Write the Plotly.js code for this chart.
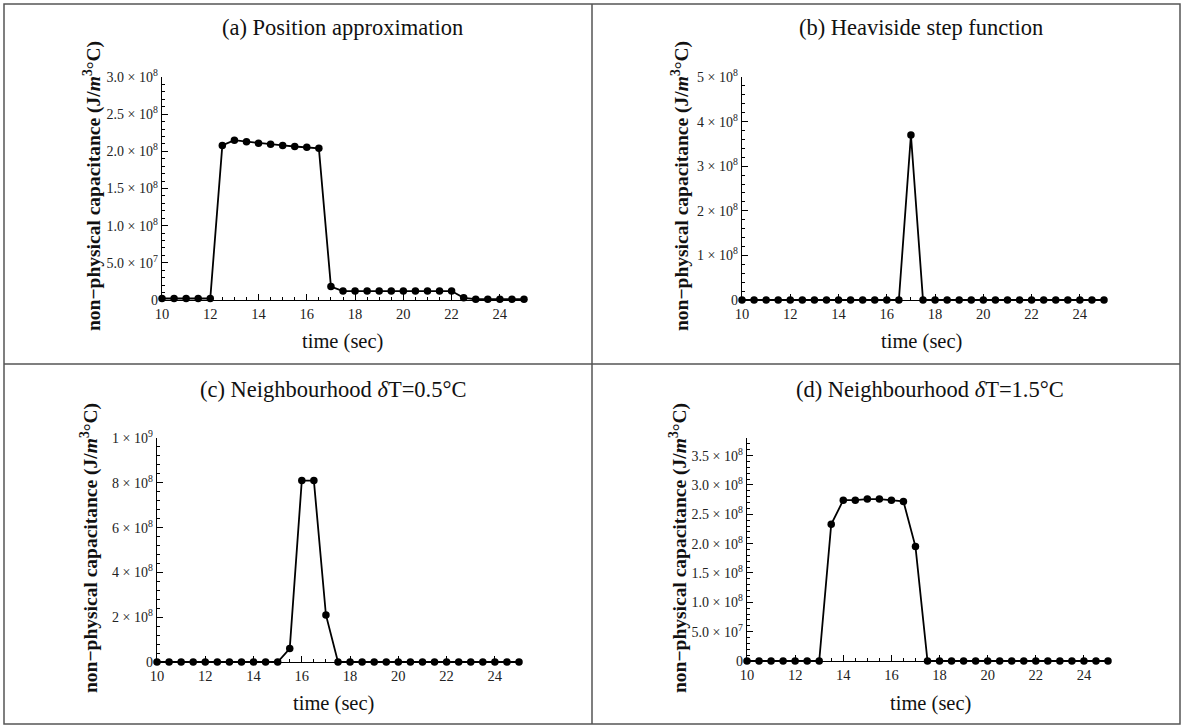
<!DOCTYPE html>
<html>
<head>
<meta charset="utf-8">
<script src="https://cdn.plot.ly/plotly-3.0.1.min.js"></script>
<style>html,body{margin:0;padding:0;background:#fff;}#chart{width:1184px;height:727px;}</style>
</head>
<body>
<div id="chart"></div>
<script>
// ---- data ----
const time = [10,10.5,11,11.5,12,12.5,13,13.5,14,14.5,15,15.5,16,16.5,17,17.5,18,18.5,19,19.5,20,20.5,21,21.5,22,22.5,23,23.5,24,24.5,25];
const capA = [2e6,2e6,2e6,2e6,2e6,2.08e8,2.15e8,2.13e8,2.11e8,2.095e8,2.08e8,2.065e8,2.055e8,2.04e8,1.8e7,1.2e7,1.2e7,1.2e7,1.2e7,1.2e7,1.2e7,1.2e7,1.2e7,1.2e7,1.2e7,3e6,1e6,1e6,1e6,1e6,1e6];
const capB = [0,0,0,0,0,0,0,0,0,0,0,0,0,0,3.7e8,0,0,0,0,0,0,0,0,0,0,0,0,0,0,0,0];
const capC = [0,0,0,0,0,0,0,0,0,0,0,6e7,8.1e8,8.1e8,2.1e8,0,0,0,0,0,0,0,0,0,0,0,0,0,0,0,0];
const capD = [0,0,0,0,0,0,0,2.33e8,2.74e8,2.74e8,2.76e8,2.76e8,2.74e8,2.72e8,1.95e8,0,0,0,0,0,0,0,0,0,0,0,0,0,0,0,0];

const panelTitles = ['(a) Position approximation','(b) Heaviside step function','(c) Neighbourhood <i>δ</i>T=0.5°C','(d) Neighbourhood <i>δ</i>T=1.5°C'];
const xTitle = 'time (sec)';
const yTitle = '<b>non−physical capacitance (J/<i>m</i><sup>3</sup>°C)</b>';

const xTickVals = [10,12,14,16,18,20,22,24];
const yTickValsA = [0,5e7,1e8,1.5e8,2e8,2.5e8,3e8];
const yTickTextA = ['0','5.0 × 10<sup>7</sup>','1.0 × 10<sup>8</sup>','1.5 × 10<sup>8</sup>','2.0 × 10<sup>8</sup>','2.5 × 10<sup>8</sup>','3.0 × 10<sup>8</sup>'];
const yTickValsB = [0,1e8,2e8,3e8,4e8,5e8];
const yTickTextB = ['0','1 × 10<sup>8</sup>','2 × 10<sup>8</sup>','3 × 10<sup>8</sup>','4 × 10<sup>8</sup>','5 × 10<sup>8</sup>'];
const yTickValsC = [0,2e8,4e8,6e8,8e8,1e9];
const yTickTextC = ['0','2 × 10<sup>8</sup>','4 × 10<sup>8</sup>','6 × 10<sup>8</sup>','8 × 10<sup>8</sup>','1 × 10<sup>9</sup>'];
const yTickValsD = [0,5e7,1e8,1.5e8,2e8,2.5e8,3e8,3.5e8];
const yTickTextD = ['0','5.0 × 10<sup>7</sup>','1.0 × 10<sup>8</sup>','1.5 × 10<sup>8</sup>','2.0 × 10<sup>8</sup>','2.5 × 10<sup>8</sup>','3.0 × 10<sup>8</sup>','3.5 × 10<sup>8</sup>'];

// ---- layout helpers ----
const W = 1184, H = 727;
const px = x => x / W;
const py = y => 1 - y / H;
const serif = 'Liberation Serif, Times New Roman, serif';

function trace(y, xa, ya) {
  return {x: time, y: y, xaxis: xa, yaxis: ya, type: 'scatter', mode: 'lines+markers',
    line: {color: '#000', width: 1.8}, marker: {color: '#000', size: 7.5}, cliponaxis: false, hoverinfo: 'x+y'};
}
function xAxis(l, r, anchor) {
  return {domain: [px(l), px(r)], range: [10, 25], anchor: anchor, showgrid: false, zeroline: false,
    showline: true, linecolor: '#000', linewidth: 1.3, ticks: 'inside', ticklen: 6, tickcolor: '#000',
    tickvals: xTickVals, ticktext: xTickVals.map(String),
    minor: {ticks: 'inside', tickvals: time, ticklen: 3, tickcolor: '#000'},
    tickfont: {family: serif, size: 14.5, color: '#222'}, fixedrange: true};
}
function yAxis(top, bottom, max, vals, text, minorStep, anchor) {
  const mv = []; for (let v = 0; v <= max + 1; v += minorStep) mv.push(v);
  return {domain: [py(bottom), py(top)], range: [0, max], anchor: anchor, showgrid: false, zeroline: false,
    showline: true, linecolor: '#000', linewidth: 1.3, ticks: 'inside', ticklen: 6, tickcolor: '#000',
    tickvals: vals, ticktext: text,
    minor: {ticks: 'inside', tickvals: mv, ticklen: 3, tickcolor: '#000'},
    tickfont: {family: serif, size: 14, color: '#222'}, fixedrange: true};
}

const data = [trace(capA,'x','y'), trace(capB,'x2','y2'), trace(capC,'x3','y3'), trace(capD,'x4','y4')];

const ann = [];
function addText(text, x, y, size, angle) {
  ann.push({text: text, x: px(x), y: py(y), xref: 'paper', yref: 'paper', xanchor: 'center', yanchor: 'middle',
    showarrow: false, textangle: angle || 0, font: {family: serif, size: size, color: '#111'}});
}
addText(panelTitles[0], 342, 27, 22.5);
addText(panelTitles[1], 921, 27, 22.5);
addText(panelTitles[2], 333, 389, 22.5);
addText(panelTitles[3], 930, 389, 22.5);
addText(xTitle, 342, 341, 20.5);
addText(xTitle, 921, 341, 20.5);
addText(xTitle, 333, 703, 20.5);
addText(xTitle, 930, 703, 20.5);
addText(yTitle, 92, 186, 19.5, -90);
addText(yTitle, 680, 186, 19.5, -90);
addText(yTitle, 89, 548, 19.5, -90);
addText(yTitle, 678, 548, 19.5, -90);

const border = {color: '#555', width: 1.5};
const shapes = [
  {type: 'rect', xref: 'paper', yref: 'paper', x0: px(4), x1: px(1180), y0: py(724), y1: py(4), line: border},
  {type: 'line', xref: 'paper', yref: 'paper', x0: px(592), x1: px(592), y0: py(724), y1: py(4), line: border},
  {type: 'line', xref: 'paper', yref: 'paper', x0: px(4), x1: px(1180), y0: py(364), y1: py(364), line: border}
];

const layout = {
  width: W, height: H, margin: {l: 0, r: 0, t: 0, b: 0}, showlegend: false,
  paper_bgcolor: '#fff', plot_bgcolor: 'rgba(0,0,0,0)',
  xaxis: xAxis(162, 524, 'y'),
  yaxis: yAxis(77, 300, 3.0e8, yTickValsA, yTickTextA, 1e7, 'x'),
  xaxis2: xAxis(742, 1104, 'y2'),
  yaxis2: yAxis(77, 300, 5e8, yTickValsB, yTickTextB, 2e7, 'x2'),
  xaxis3: xAxis(157, 519, 'y3'),
  yaxis3: yAxis(438, 662, 1e9, yTickValsC, yTickTextC, 4e7, 'x3'),
  xaxis4: xAxis(747, 1108, 'y4'),
  yaxis4: yAxis(438, 661, 3.8e8, yTickValsD, yTickTextD, 1e7, 'x4'),
  annotations: ann, shapes: shapes
};

Plotly.newPlot('chart', data, layout, {displayModeBar: false, staticPlot: true});
</script>
</body>
</html>
